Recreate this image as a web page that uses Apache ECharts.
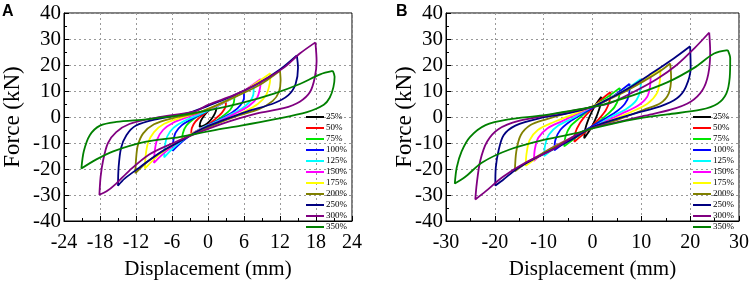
<!DOCTYPE html>
<html>
<head>
<meta charset="utf-8">
<script src="https://cdn.jsdelivr.net/npm/echarts@6/dist/echarts.min.js"></script>
<style>
  html, body { margin: 0; padding: 0; background: #fff; }
  #chart { width: 754px; height: 285px; }
</style>
</head>
<body>
<div id="chart"></div>
<script>
// load levels
var names = ['25%', '50%', '75%', '100%', '125%', '150%', '175%', '200%', '250%', '300%', '350%'];

// axis ticks [min, max, step]
var xTicksA = [-24, 24, 6];
var xTicksB = [-30, 30, 10];
var yTicks = [-40, 40, 10];

// panel A loops, [displacement mm, force kN]
var a25 = [[1.4,3.8],[1.3,2.2],[0.9,0.3],[0.2,-1.8],[-0.6,-3.2],[-1.4,-3.8],[-1.3,-2.2],[-0.9,-0.3],[-0.2,1.8],[0.6,3.2],[1.4,3.8]];
var a50 = [[3.0,6.0],[2.9,3.8],[2.3,1.6],[1.2,-0.8],[0,-3.0],[-1.4,-5.0],[-2.8,-6.5],[-2.7,-4.3],[-2.1,-1.8],[-1.0,0.6],[0.3,2.8],[1.6,4.5],[3.0,6.0]];
var a75 = [[4.4,7.9],[4.3,5.5],[3.7,2.8],[2.5,0.4],[1,-2],[-0.8,-4.3],[-2.6,-6.6],[-4.3,-9.0],[-4.2,-6.3],[-3.6,-3.3],[-2.4,-0.8],[-0.6,1.8],[1.5,4.3],[4.4,7.9]];
var a100 = [[6.0,10.1],[6.0,7.5],[5.4,4.5],[4.2,2.0],[2.5,-0.3],[0.3,-2.8],[-2.0,-5.6],[-4.0,-8.9],[-5.9,-13.0],[-5.8,-9.5],[-5.4,-6.0],[-4.4,-3.2],[-2.8,-0.9],[-0.5,1.8],[2.2,5.0],[4.2,7.5],[6.0,10.1]];
var a125 = [[7.6,12.4],[7.6,9.5],[7.0,6.0],[5.6,3.2],[3.5,0.6],[1,-2.2],[-1.5,-4.8],[-4.0,-8.5],[-6.0,-12.4],[-7.3,-15.5],[-7.2,-11.5],[-6.8,-7.5],[-5.8,-4.3],[-4.0,-1.6],[-1.5,0.9],[1.5,4.2],[4.5,7.7],[7.6,12.4]];
var a150 = [[8.8,14.6],[8.7,11.5],[8.2,7.5],[6.8,4.2],[4.5,1.3],[1.5,-2.0],[-1.5,-4.9],[-4.5,-8.9],[-7.2,-13.6],[-9.0,-17.6],[-8.9,-13.5],[-8.5,-8.8],[-7.5,-5.0],[-5.8,-2.2],[-3,0.3],[0.5,3.3],[4.5,7.8],[8.8,14.6]];
var a175 = [[10.4,16.8],[10.3,13.0],[9.7,8.5],[8.3,5.0],[6.0,2.0],[2.5,-1.5],[-1.0,-4.5],[-4.5,-8.7],[-8.0,-14.2],[-10.5,-19.8],[-10.4,-15.0],[-10.0,-10.0],[-9.0,-5.8],[-7.3,-2.6],[-4.5,-0.3],[-0.5,2.6],[4.5,7.8],[10.4,16.8]];
var a200 = [[12.0,17.8],[12.1,14.0],[11.8,9.5],[10.8,6.2],[8.5,3.0],[5.0,0.5],[1.0,-3.0],[-3.0,-7.2],[-7.0,-12.4],[-10.0,-17.0],[-12.1,-21.6],[-12.0,-16.5],[-11.7,-11.0],[-10.8,-6.3],[-9.0,-2.8],[-6.0,-0.5],[-1.5,1.8],[4.0,7.2],[8.5,12.2],[12.0,17.8]];
var a250 = [[14.8,23.7],[15.0,18.9],[14.6,12.7],[13.4,8.4],[11.0,5.3],[6.6,2.2],[2.2,-1.5],[-1.0,-4.5],[-4.8,-9.5],[-8.1,-13.8],[-11.4,-19.4],[-13.9,-23.7],[-15.0,-26.4],[-14.9,-19.4],[-14.5,-12.0],[-13.6,-7.0],[-12.0,-3.3],[-8.7,-0.9],[-3.2,1.6],[0,4.3],[3.8,7.8],[8.2,12.7],[12.0,18.3],[14.8,23.7]];
var a300 = [[17.9,28.7],[18.1,21.4],[17.8,15.2],[17.0,9.6],[15.3,5.9],[12.6,3.4],[8.2,1.4],[3.8,-1.5],[0,-4.6],[-5.9,-10.1],[-9.8,-14.4],[-13.1,-20.6],[-15.3,-25.6],[-16.9,-28.6],[-18.1,-29.9],[-17.9,-23.0],[-17.5,-16.9],[-16.7,-10.1],[-15.3,-5.8],[-13.1,-2.7],[-8.7,-0.3],[-2.1,2.2],[0,4.7],[4.3,8.4],[8.2,12.7],[12.6,18.9],[15.3,24.4],[17.9,28.7]];
var a350 = [[20.8,17.7],[21.1,15.5],[20.9,11.5],[20.3,7.5],[19.3,4.7],[16.5,1.9],[11.0,-0.9],[5.5,-3.3],[0.7,-5.2],[-4.8,-7.7],[-10.3,-9.5],[-15.8,-13.2],[-18.6,-16.3],[-21.1,-19.8],[-20.7,-13.2],[-19.7,-7.0],[-18.0,-3.3],[-15.3,-1.9],[-10.3,-0.9],[-4.8,0.6],[0.7,2.8],[5.5,5.3],[11.0,9.0],[15.3,12.7],[18.7,16.4],[20.8,17.7]];

// panel B loops
var b25 = [[1.8,7.8],[1.6,4.5],[1.0,1.0],[0.2,-2.5],[-0.7,-5.5],[-1.7,-8.2],[-1.5,-4.8],[-0.9,-1.2],[-0.1,2.2],[0.8,5.2],[1.8,7.8]];
var b50 = [[3.7,9.6],[3.5,6.2],[2.7,2.5],[1.3,-0.8],[-0.5,-4.2],[-2.0,-6.8],[-3.7,-9.5],[-3.5,-6.0],[-2.6,-2.4],[-1.2,1.0],[0.5,4.3],[2.0,7.0],[3.7,9.6]];
var b75 = [[5.6,11.2],[5.4,7.5],[4.5,3.8],[2.8,0.6],[0.5,-3.0],[-2.2,-6.3],[-5.8,-11.3],[-5.5,-7.3],[-4.5,-3.5],[-2.8,-0.6],[-0.5,3.2],[2.2,6.5],[5.6,11.2]];
var b100 = [[7.6,12.8],[7.5,8.8],[6.6,5.0],[4.7,1.8],[2,-1.3],[-0.8,-4.3],[-4,-7.7],[-7.8,-12.8],[-7.6,-8.8],[-6.6,-5.0],[-4.7,-1.8],[-2,1.3],[0.8,4.3],[4,7.7],[7.6,12.8]];
var b125 = [[9.9,14.6],[9.8,10.5],[9.0,6.5],[7.0,3.2],[4.0,0.3],[0.5,-3.5],[-3.5,-7.3],[-7,-11],[-9.9,-15.0],[-9.7,-10.8],[-8.9,-6.7],[-7.0,-3.3],[-4.0,-0.4],[-0.5,3.5],[3.5,7.3],[7,10.8],[9.9,14.6]];
var b150 = [[11.9,16.4],[11.8,12.0],[11.2,7.8],[9.2,4.2],[6.0,1.3],[2.0,-2.3],[-2.0,-5.8],[-6.5,-10.0],[-9.8,-13.5],[-12.0,-16.9],[-11.8,-12.3],[-11.1,-8.0],[-9.2,-4.3],[-6.0,-1.4],[-2.0,2.2],[2.0,5.7],[6.5,9.9],[9.8,13.4],[11.9,16.4]];
var b175 = [[13.9,18.6],[13.8,14.0],[13.2,9.2],[11.3,5.2],[8.0,2.0],[3.5,-1.5],[-1.0,-5.0],[-6,-9.8],[-10.5,-14.6],[-13.7,-18.8],[-13.5,-14.0],[-12.9,-9.0],[-11.2,-5.0],[-8.0,-2.0],[-3.5,1.4],[1.0,5.0],[6,9.6],[10.5,14.5],[13.9,18.6]];
var b200 = [[15.9,20.6],[16.1,15.2],[15.6,9.0],[13.9,5.3],[10.5,2.8],[5.5,-0.8],[0,-4.2],[-5.5,-9.2],[-10.5,-14.2],[-13.8,-18.0],[-15.9,-20.9],[-15.6,-13.2],[-14.7,-7.0],[-12.7,-3.1],[-9.5,-0.9],[-5,1.6],[0,4.0],[5.5,8.7],[10.5,13.8],[13.8,17.6],[15.9,20.6]];
var b250 = [[20.0,27.2],[20.1,18.9],[19.1,11.5],[17.3,7.2],[13.9,4.1],[9.1,1.6],[3.6,-1.5],[0,-3.9],[-4.6,-9.0],[-10.2,-14.4],[-15.1,-19.4],[-18.4,-24.3],[-19.9,-26.4],[-19.8,-19.4],[-19.2,-12.6],[-18.2,-7.0],[-15.8,-3.3],[-10.9,-0.5],[-4.6,1.6],[0,4.0],[2.2,5.9],[7.1,10.8],[11.8,16.4],[16.7,22.6],[20.0,27.2]];
var b300 = [[23.9,32.5],[24.1,25.1],[23.7,16.4],[22.5,10.3],[20.1,5.9],[16.0,2.8],[10.5,0.4],[4.9,-2.1],[0,-4.2],[-3.3,-6.8],[-8.2,-12.6],[-13.7,-17.5],[-18.4,-23.1],[-21.9,-28.6],[-24.0,-31.7],[-23.7,-25.6],[-23.0,-16.9],[-21.6,-9.5],[-19.2,-4.6],[-15.1,-1.5],[-8.2,1.0],[0,3.8],[3.6,5.3],[8.4,9.6],[13.2,14.6],[17.3,20.1],[20.8,26.3],[23.9,32.5]];
var b350 = [[27.7,25.7],[28.2,22.6],[28.1,15.2],[27.4,9.0],[25.6,5.1],[22.2,2.8],[15.3,1.0],[8.4,-0.9],[0,-4.4],[-3.3,-6.2],[-10.2,-8.9],[-17.1,-12.6],[-22.6,-17.5],[-26.1,-23.1],[-28.2,-25.6],[-27.8,-19.4],[-26.8,-13.2],[-25.1,-7.7],[-21.9,-3.1],[-17.1,-0.9],[-10.2,0.6],[-0.2,3.8],[2.2,4.8],[8.4,8.4],[15.3,13.3],[20.8,18.9],[24.9,24.4],[27.7,25.7]];

var loopsA = [a25, a50, a75, a100, a125, a150, a175, a200, a250, a300, a350];
var loopsB = [b25, b50, b75, b100, b125, b150, b175, b200, b250, b300, b350];

var colors = ['#000000', '#ff0000', '#00e600', '#0000ff', '#00ffff', '#ff00ff', '#ffff00', '#808000', '#000080', '#800080', '#008000'];
var serif = 'Liberation Serif';

var myChart = echarts.init(document.getElementById('chart'), null, { renderer: 'canvas' });

function xAxisOf(idx, ticks) {
	return {
		type: 'value',
		gridIndex: idx,
		min: ticks[0],
		max: ticks[1],
		interval: ticks[2],
		name: 'Displacement (mm)',
		nameLocation: 'middle',
		nameGap: 38,
		nameMoveOverlap: false,
		nameTextStyle: { fontFamily: serif, fontSize: 21, color: '#000' },
		axisLine: { show: true, onZero: false, lineStyle: { color: '#000', width: 1 } },
		axisTick: { show: true, inside: true, length: 5, lineStyle: { color: '#000' } },
		minorTick: { show: true, splitNumber: 2, length: 3, lineStyle: { color: '#000' } },
		axisLabel: { fontFamily: serif, fontSize: 20, color: '#000', margin: 12, showMinLabel: true, showMaxLabel: true },
		splitLine: { show: true, lineStyle: { color: '#999', type: [2, 3], width: 1 } }
	};
}

function yAxisOf(idx, gap) {
	return {
		type: 'value',
		gridIndex: idx,
		min: yTicks[0],
		max: yTicks[1],
		interval: yTicks[2],
		name: 'Force (kN)',
		nameLocation: 'middle',
		nameGap: gap,
		nameMoveOverlap: false,
		nameTextStyle: { fontFamily: serif, fontSize: 23, color: '#000' },
		axisLine: { show: true, onZero: false, lineStyle: { color: '#000', width: 1 } },
		axisTick: { show: true, inside: true, length: 5, lineStyle: { color: '#000' } },
		minorTick: { show: true, splitNumber: 2, length: 3, lineStyle: { color: '#000' } },
		axisLabel: { fontFamily: serif, fontSize: 21, color: '#000', margin: 3 },
		splitLine: { show: true, lineStyle: { color: '#999', type: [2, 3], width: 1 } }
	};
}

function legendOf(left) {
	return {
		data: names,
		orient: 'vertical',
		left: left,
		top: 112,
		padding: 0,
		itemGap: 1,
		itemWidth: 18,
		itemHeight: 2,
		icon: 'rect',
		selectedMode: false,
		textStyle: { fontFamily: serif, fontSize: 9, color: '#000', lineHeight: 10, padding: [0, 0, 0, -3] }
	};
}

var series = [];
loopsA.forEach(function(loop, i) {
	series.push({ name: names[i], type: 'line', xAxisIndex: 0, yAxisIndex: 0, data: loop, showSymbol: false, smooth: 0.3, lineStyle: { width: 1.8, color: colors[i] }, itemStyle: { color: colors[i] } });
});
loopsB.forEach(function(loop, i) {
	series.push({ name: names[i], type: 'line', xAxisIndex: 1, yAxisIndex: 1, data: loop, showSymbol: false, smooth: 0.3, lineStyle: { width: 1.8, color: colors[i] }, itemStyle: { color: colors[i] } });
});

var option = {
	animation: false,
	backgroundColor: '#fff',
	title: [
		{ text: 'A', left: 2, top: 4, padding: 0, textStyle: { fontFamily: 'Liberation Sans', fontSize: 16, fontWeight: 'bold', color: '#000' } },
		{ text: 'B', left: 396, top: 4, padding: 0, textStyle: { fontFamily: 'Liberation Sans', fontSize: 16, fontWeight: 'bold', color: '#000' } }
	],
	grid: [
		{ left: 61, top: 13, width: 291, height: 216, show: true, borderColor: '#000', borderWidth: 1, backgroundColor: 'transparent' },
		{ left: 446, top: 13, width: 293, height: 216, show: true, borderColor: '#000', borderWidth: 1, backgroundColor: 'transparent' }
	],
	legend: [legendOf(306), legendOf(693)],
	xAxis: [xAxisOf(0, xTicksA), xAxisOf(1, xTicksB)],
	yAxis: [yAxisOf(0, 40), yAxisOf(1, 30)],
	series: series
};
myChart.setOption(option);
</script>
</body>
</html>
